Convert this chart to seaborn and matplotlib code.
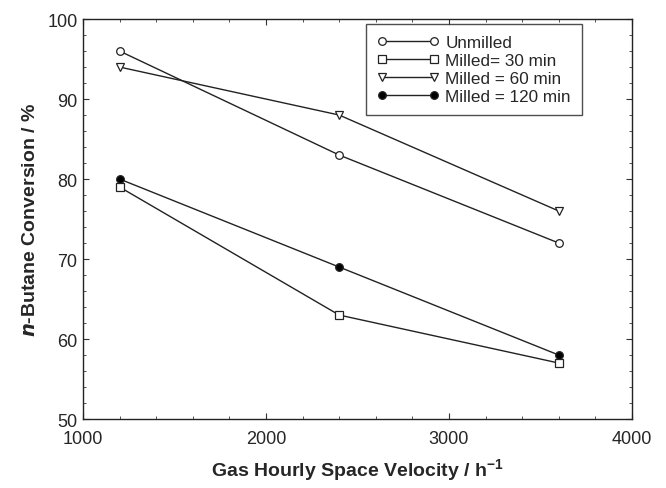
import matplotlib
matplotlib.use("Agg")
import matplotlib.pyplot as plt
from matplotlib.ticker import MultipleLocator
import seaborn as sns
import pandas as pd

# Gas hourly space velocity (h^-1)
ghsv = [1200, 2400, 3600]

# n-Butane conversion (%) for each sample
unmilled = [96, 83, 72]
milled_30 = [79, 63, 57]
milled_60 = [94, 88, 76]
milled_120 = [80, 69, 58]

labels = ["Unmilled", "Milled= 30 min", "Milled = 60 min", "Milled = 120 min"]
series = [unmilled, milled_30, milled_60, milled_120]

df = pd.concat(
    [pd.DataFrame({"ghsv": ghsv, "conv": vals, "sample": lab}) for lab, vals in zip(labels, series)],
    ignore_index=True,
)

sns.set_theme(style="ticks")
plt.rcParams["font.family"] = ["Liberation Sans", "DejaVu Sans"]

fig = plt.figure(figsize=(6.66, 4.89), dpi=100)
ax = fig.add_axes([0.1246, 0.141, 0.8244, 0.818])

markers = {"Unmilled": "o", "Milled= 30 min": "s", "Milled = 60 min": "v", "Milled = 120 min": "o"}
faces = {"Unmilled": "white", "Milled= 30 min": "white", "Milled = 60 min": "white", "Milled = 120 min": "black"}

for lab in labels:
    sub = df[df["sample"] == lab]
    sns.lineplot(
        data=sub, x="ghsv", y="conv", ax=ax, color="#222222", linewidth=1.0,
        marker=markers[lab], markersize=5.5, markerfacecolor=faces[lab],
        markeredgecolor="#222222", markeredgewidth=0.9, label=lab,
    )

ax.set_xlim(1000, 4000)
ax.set_ylim(50, 100)
ax.xaxis.set_major_locator(MultipleLocator(1000))
ax.xaxis.set_minor_locator(MultipleLocator(200))
ax.yaxis.set_major_locator(MultipleLocator(10))
ax.yaxis.set_minor_locator(MultipleLocator(2))
ax.tick_params(which="both", direction="in", top=True, right=True, color="#333333")
ax.tick_params(which="major", length=4, width=0.8, labelsize=13)
ax.tick_params(which="minor", length=2, width=0.6)
ax.tick_params(axis="x", which="major", pad=8)
ax.tick_params(axis="y", which="major", pad=4)
for s in ax.spines.values():
    s.set_linewidth(1.0)
    s.set_color("#222222")

ax.set_xlabel("Gas Hourly Space Velocity / h$^{\\mathregular{-1}}$", fontsize=14, fontweight="bold", labelpad=7)
ax.set_ylabel("$\\mathbfit{n}$-Butane Conversion / %", fontsize=14, fontweight="bold", labelpad=6)

leg = ax.legend(
    loc="upper right", bbox_to_anchor=(0.909, 0.9875), borderaxespad=0, numpoints=2, fontsize=12.3,
    frameon=True, fancybox=False, edgecolor="#222222", handlelength=3.6,
    borderpad=0.65, labelspacing=0.18, handletextpad=0.4,
)
leg.get_frame().set_linewidth(1.0)

fig.savefig("out.png", dpi=100)
